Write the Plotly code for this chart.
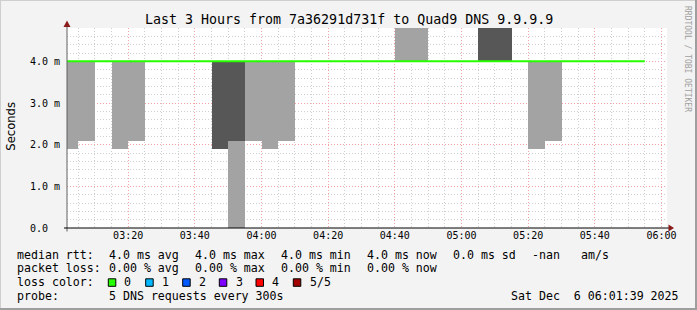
import plotly.graph_objects as go

DAY = "2025-12-06 "
# ---- data ----
light_steps = ["03:00", "03:05", "03:15", "03:20", "03:50", "03:55", "04:00", "04:05",
               "04:40", "04:45", "05:20", "05:25"]
light_lo = [1.9, 2.1, 1.9, 2.1, 0.0, 2.1, 1.9, 2.1, 4.0, 4.0, 1.9, 2.1]
light_hi = [4.0, 4.0, 4.0, 4.0, 2.1, 4.0, 4.0, 4.0, 5.0, 5.0, 4.0, 4.0]

dark_steps = ["03:45", "03:50", "05:05", "05:10"]
dark_lo = [1.9, 2.1, 4.0, 4.0]
dark_hi = [4.0, 4.0, 5.0, 5.0]

median_times = ["03:00", "03:05", "03:10", "03:15", "03:20", "03:25", "03:30", "03:35",
                "03:40", "03:45", "03:50", "03:55", "04:00", "04:05", "04:10", "04:15",
                "04:20", "04:25", "04:30", "04:35", "04:40", "04:45", "04:50", "04:55",
                "05:00", "05:05", "05:10", "05:15", "05:20", "05:25", "05:30", "05:35",
                "05:40", "05:45", "05:50", "05:55"]
median_ms = [4.0, 4.0, 4.0, 4.0, 4.0, 4.0, 4.0, 4.0, 4.0, 4.0, 4.0, 4.0,
             4.0, 4.0, 4.0, 4.0, 4.0, 4.0, 4.0, 4.0, 4.0, 4.0, 4.0, 4.0,
             4.0, 4.0, 4.0, 4.0, 4.0, 4.0, 4.0, 4.0, 4.0, 4.0, 4.0, 4.0]

y_tickvals = [0, 1, 2, 3, 4]
y_ticktext = ["0.0\u00a0\u00a0", "1.0 m", "2.0 m", "3.0 m", "4.0 m"]

loss_labels = ["0", "1", "2", "3", "4", "5/5"]
loss_colors = ["#26ff00", "#00b8ff", "#0059ff", "#7e00ff", "#ff0000", "#a10000"]

title = "Last 3 Hours from 7a36291d731f to Quad9 DNS 9.9.9.9"
rtt_stats = ["4.0 ms avg", "4.0 ms max", "4.0 ms min", "4.0 ms now", "0.0 ms sd", "-nan", "am/s"]
loss_stats = ["0.00 % avg", "0.00 % max", "0.00 % min", "0.00 % now"]
probe_text = "5 DNS requests every 300s"
stamp = "Sat Dec \u00a06 06:01:39 2025"

STEP_MS = 300000

def step_center(hm):
    h, m = hm.split(":")
    total = int(h) * 60 + int(m) + 2.5
    return DAY + "%02d:%02d:%02d" % (int(total // 60), int(total % 60), int(round((total % 1) * 60)))

fig = go.Figure()

fig.add_trace(go.Bar(
    x=[step_center(s) for s in light_steps],
    y=[h - l for h, l in zip(light_hi, light_lo)],
    base=light_lo, width=[STEP_MS] * len(light_steps),
    marker=dict(color="#a3a3a3", line=dict(width=0)), showlegend=False, hoverinfo="skip"))
fig.add_trace(go.Bar(
    x=[step_center(s) for s in dark_steps],
    y=[h - l for h, l in zip(dark_hi, dark_lo)],
    base=dark_lo, width=[STEP_MS] * len(dark_steps),
    marker=dict(color="#575757", line=dict(width=0)), showlegend=False, hoverinfo="skip"))

fig.add_trace(go.Scatter(x=[DAY + t for t in median_times], y=median_ms,
                         mode="lines", line=dict(color="#26ff00", width=2, shape="hv"),
                         showlegend=False, hoverinfo="skip"))

L, T, W, H = 67, 28, 600, 200

def px(x):
    return (x - L) / W

def py(y):
    return (T + H - y) / H

mono = "DejaVu Sans Mono"
annos = []

def txt(x, y, s, size=11.6, anchor="left", color="#000000", family=mono, angle=0):
    annos.append(dict(x=px(x), y=py(y), xref="paper", yref="paper", text=s,
                      showarrow=False, xanchor=anchor, yanchor="middle", textangle=angle,
                      font=dict(family=family, size=size, color=color)))

txt(348.5, 19, title, size=13.3, anchor="center")
txt(11, 126.7, "Seconds", size=11.6, anchor="center", family="DejaVu Sans", angle=-90)
txt(688, 59, "RRDTOOL / TOBI OETIKER", size=8, anchor="center", color="#a0a0a0", angle=90)

r1, r2, r3, r4 = 254.5, 268, 282, 296
txt(15.3, r1, "median rtt:")
for xx, s in zip([106.6, 192.6, 278.6, 365.0, 451.0, 530.3, 578.6], rtt_stats):
    txt(xx, r1, s)
txt(15.3, r2, "packet loss:")
for xx, s in zip([106.6, 192.6, 278.6, 365.0], loss_stats):
    txt(xx, r2, s)
txt(15.3, r3, "loss color:")
box_x = [108.3, 145.7, 182.7, 219.3, 256.0, 293.3]
lab_x = [122.3, 160.0, 196.6, 233.6, 270.3, 307.6]
shapes = []
for bx, lx, lab, col in zip(box_x, lab_x, loss_labels, loss_colors):
    shapes.append(dict(type="rect", xref="paper", yref="paper", x0=px(bx), x1=px(bx + 7.5),
                       y0=py(286.3), y1=py(278.8), fillcolor=col,
                       line=dict(color="#000000", width=1)))
    txt(lx, r3, lab)
txt(15.3, r4, "probe:")
txt(106.6, r4, probe_text)
txt(680.5, r4, stamp, anchor="right")

# axis lines and arrows
shapes.append(dict(type="line", xref="paper", yref="paper", x0=px(67), x1=px(67),
                   y0=py(231.5), y1=py(25), line=dict(color="#606060", width=1)))
shapes.append(dict(type="line", xref="paper", yref="paper", x0=px(64), x1=px(670),
                   y0=py(228), y1=py(228), line=dict(color="#000000", width=1)))
shapes.append(dict(type="path", xref="paper", yref="paper",
                   path="M %f %f L %f %f L %f %f Z" % (px(63.5), py(27), px(70.5), py(27), px(67), py(20.5)),
                   fillcolor="#8b1a1a", line=dict(width=0)))
shapes.append(dict(type="path", xref="paper", yref="paper",
                   path="M %f %f L %f %f L %f %f Z" % (px(668.5), py(224.5), px(668.5), py(231.5), px(674), py(228)),
                   fillcolor="#8b1a1a", line=dict(width=0)))
# frame
shapes.append(dict(type="line", xref="paper", yref="paper", x0=px(0), x1=px(697),
                   y0=py(0.5), y1=py(0.5), line=dict(color="#cfcfcf", width=1)))
shapes.append(dict(type="line", xref="paper", yref="paper", x0=px(0.5), x1=px(0.5),
                   y0=py(0), y1=py(310), line=dict(color="#cfcfcf", width=1)))
shapes.append(dict(type="line", xref="paper", yref="paper", x0=px(0), x1=px(697),
                   y0=py(309), y1=py(309), line=dict(color="#9e9e9e", width=2)))
shapes.append(dict(type="line", xref="paper", yref="paper", x0=px(696), x1=px(696),
                   y0=py(0), y1=py(310), line=dict(color="#9e9e9e", width=2)))

fig.update_layout(
    width=697, height=310,
    margin=dict(l=L, r=697 - L - W, t=T, b=310 - T - H, pad=0),
    paper_bgcolor="#f3f3f3", plot_bgcolor="#ffffff",
    barmode="overlay", bargap=0,
    annotations=annos, shapes=shapes,
    xaxis=dict(type="date", range=[DAY + "03:01:39", DAY + "06:01:39"],
               tick0=DAY + "03:00", dtick=1200000, tickformat="%H:%M",
               showgrid=True, gridcolor="#f5a3a3", griddash="1px,2px", gridwidth=1,
               minor=dict(tick0=DAY + "03:00", dtick=STEP_MS, showgrid=True,
                          gridcolor="#cfcfcf", griddash="1px,2px", gridwidth=1),
               ticks="", showline=False, zeroline=False,
               tickfont=dict(family=mono, size=10, color="#000000"),
               fixedrange=True),
    yaxis=dict(range=[0, 4.8], tickvals=y_tickvals, ticktext=y_ticktext,
               showgrid=True, gridcolor="#f5a3a3", griddash="1px,2px", gridwidth=1,
               minor=dict(tickvals=[0.2 * i for i in range(1, 24) if i % 5 != 0], showgrid=True,
                          gridcolor="#cfcfcf", griddash="1px,2px", gridwidth=1),
               ticks="", showline=False, zeroline=False, ticklabelstandoff=6,
               tickfont=dict(family=mono, size=10, color="#000000"),
               fixedrange=True),
)

fig.write_html("out.html")
